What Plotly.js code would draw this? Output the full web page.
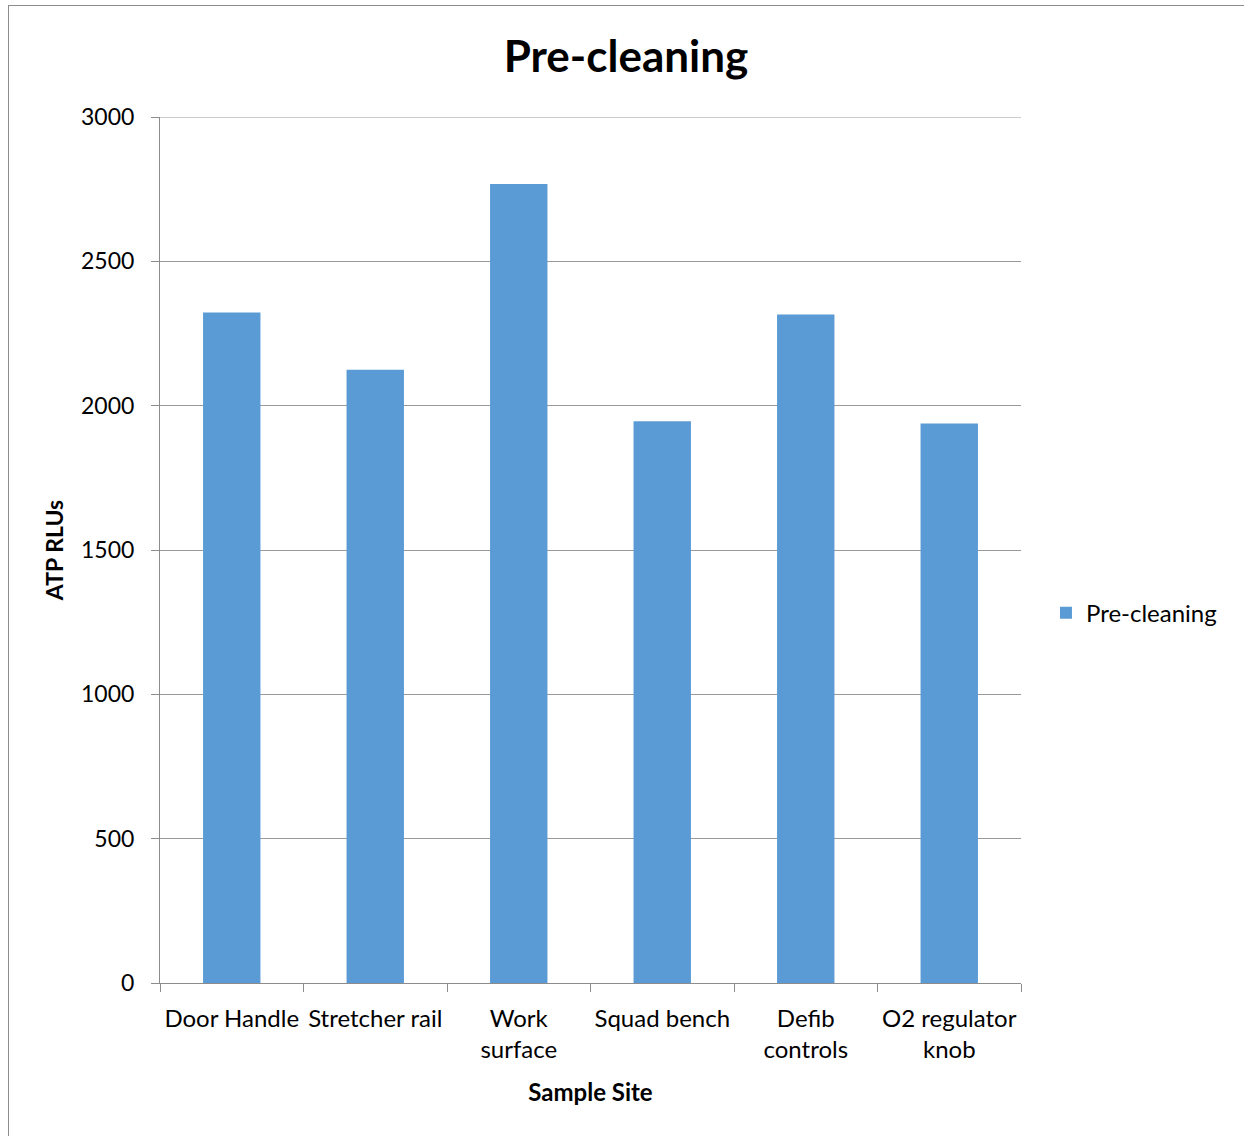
<!DOCTYPE html>
<html>
<head>
<meta charset="utf-8">
<script src="https://cdn.plot.ly/plotly-3.0.1.min.js"></script>
<style>
  html, body { margin: 0; padding: 0; background: #fff; overflow: hidden; }
  #frame { position: absolute; left: 8px; top: 5px; width: 1300px; height: 1200px;
           border-left: 1px solid #8c8c8c; border-top: 1px solid #8c8c8c; }
  #chart { position: absolute; left: 0; top: 0; width: 1244px; height: 1136px; }
</style>
</head>
<body>
<div id="frame"></div>
<div id="chart"></div>
<script>
// Sample sites along the x axis
const sites = ["Door Handle", "Stretcher rail", "Work<br>surface", "Squad bench",
               "Defib<br>controls", "O2 regulator<br>knob"];
// ATP readings (RLUs) before cleaning
const preCleaning = [2323, 2124, 2768, 1946, 2316, 1938];
const yTicks = [0, 500, 1000, 1500, 2000, 2500, 3000];
const yMax = 3000;

const font = "Lato, 'Open Sans', sans-serif";

const trace = {
  type: "bar",
  name: "Pre-cleaning",
  x: sites,
  y: preCleaning,
  marker: { color: "#5B9BD5" }
};

const layout = {
  width: 1244,
  height: 1136,
  margin: { l: 160, r: 223, t: 117, b: 153 },
  paper_bgcolor: "rgba(0,0,0,0)",
  plot_bgcolor: "rgba(0,0,0,0)",
  bargap: 0.6,
  font: { family: font, color: "#000", size: 24 },
  title: {
    text: "<b>Pre-cleaning</b>",
    font: { family: font, size: 44, color: "#000" },
    x: 626 / 1244, xref: "container", xanchor: "center",
    y: 1 - 57 / 1136, yref: "container", yanchor: "middle"
  },
  xaxis: {
    type: "category",
    showgrid: false,
    showline: true, linecolor: "#8c8c8c", linewidth: 1,
    ticks: "outside", tickson: "boundaries", ticklen: 8, tickcolor: "#8c8c8c",
    tickangle: 0,
    ticklabelstandoff: 14,
    tickfont: { family: font, size: 24, color: "#000" },
    title: { text: "<b>Sample Site</b>", font: { family: font, size: 24, color: "#000" }, standoff: 22 },
    fixedrange: true
  },
  yaxis: {
    range: [0, yMax],
    tickvals: yTicks,
    ticktext: yTicks.map(String),
    showgrid: true, gridcolor: "#9a9a9a", gridwidth: 1,
    zeroline: false,
    showline: true, linecolor: "#8c8c8c", linewidth: 1,
    ticks: "outside", ticklen: 8, tickcolor: "#8c8c8c",
    ticklabelstandoff: 12,
    tickfont: { family: font, size: 23, color: "#000" },
    title: { text: "<b>ATP RLUs</b>", font: { family: font, size: 23, color: "#000" }, standoff: 10 },
    fixedrange: true
  },
  // top gridline at the axis maximum
  shapes: [{
    type: "line", xref: "paper", yref: "y",
    x0: 0, x1: 1, y0: yMax, y1: yMax,
    line: { color: "#9a9a9a", width: 1 }, layer: "below"
  }],
  showlegend: true,
  legend: {
    x: 1.029, xanchor: "left",
    y: 0.427, yanchor: "middle",
    font: { family: font, size: 24, color: "#000" },
    bgcolor: "rgba(0,0,0,0)",
    itemwidth: 30
  }
};

Plotly.newPlot("chart", [trace], layout, { displayModeBar: false, staticPlot: true });
</script>
</body>
</html>
